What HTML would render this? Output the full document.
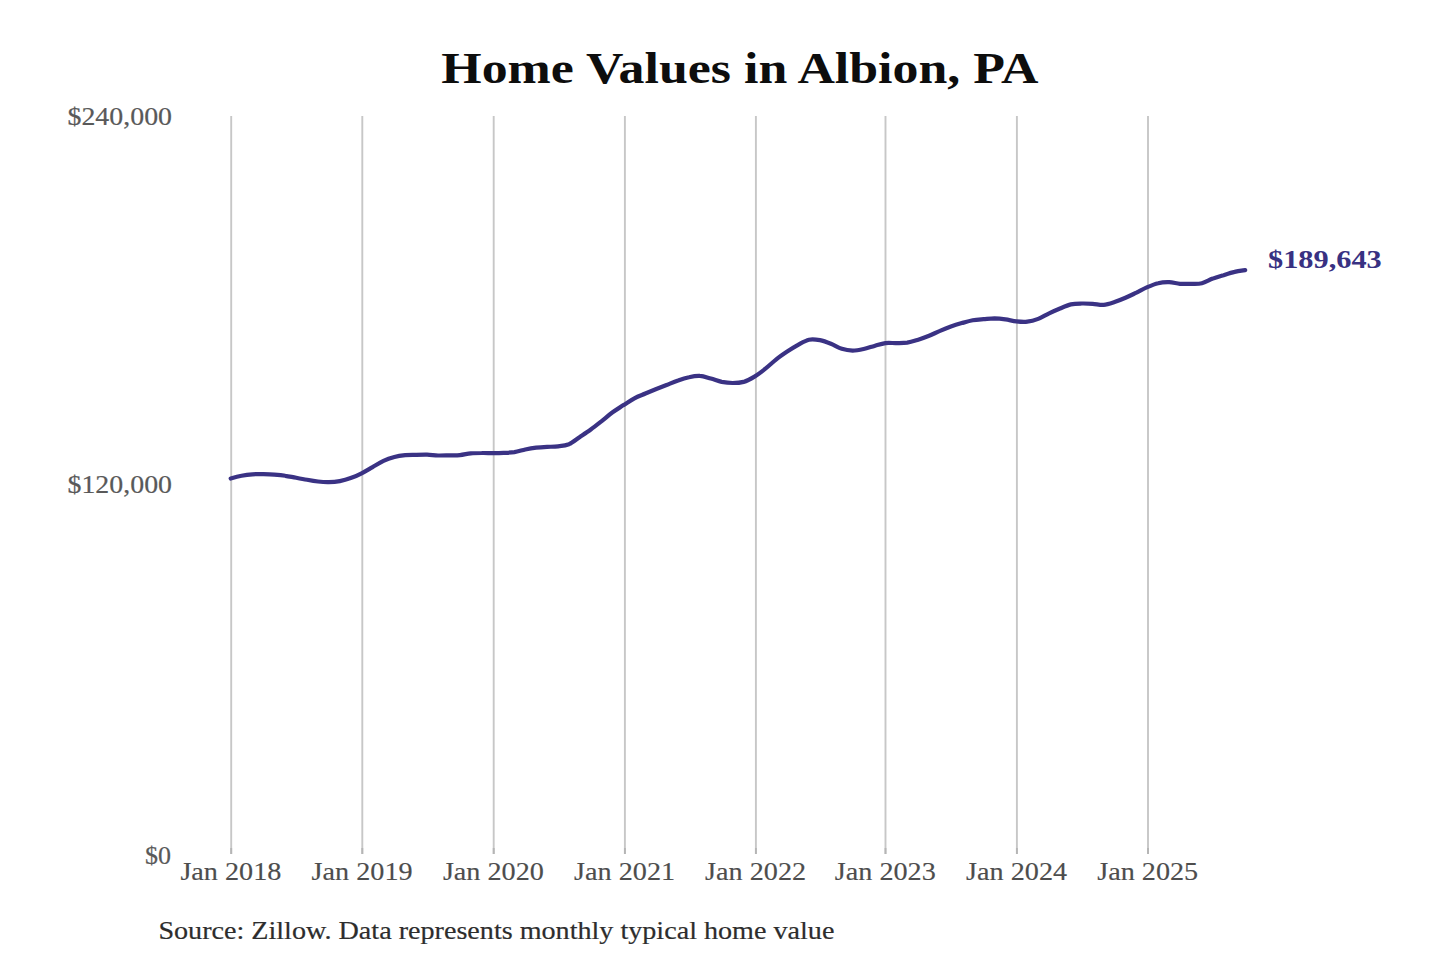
<!DOCTYPE html>
<html><head><meta charset="utf-8"><style>
html,body{margin:0;padding:0;background:#fff;width:1440px;height:960px;overflow:hidden}
svg{display:block}
text{font-family:"Liberation Serif",serif}
</style></head><body>
<svg width="1440" height="960" viewBox="0 0 1440 960">
<rect width="1440" height="960" fill="#fff"/>
<text x="441.3" y="82.8" font-size="43.5" font-weight="bold" fill="#0d0d0d" textLength="597.3" lengthAdjust="spacingAndGlyphs">Home Values in Albion, PA</text>
<g stroke="#c7c7c7" stroke-width="1.9">
<line x1="231.2" y1="116" x2="231.2" y2="854" />
<line x1="362.3" y1="116" x2="362.3" y2="854" />
<line x1="493.7" y1="116" x2="493.7" y2="854" />
<line x1="624.9" y1="116" x2="624.9" y2="854" />
<line x1="755.9" y1="116" x2="755.9" y2="854" />
<line x1="885.5" y1="116" x2="885.5" y2="854" />
<line x1="1016.9" y1="116" x2="1016.9" y2="854" />
<line x1="1148.0" y1="116" x2="1148.0" y2="854" />
</g>
<g stroke="#b5b5b5" stroke-width="1.9">
<line x1="231.2" y1="848" x2="231.2" y2="854" />
<line x1="362.3" y1="848" x2="362.3" y2="854" />
<line x1="493.7" y1="848" x2="493.7" y2="854" />
<line x1="624.9" y1="848" x2="624.9" y2="854" />
<line x1="755.9" y1="848" x2="755.9" y2="854" />
<line x1="885.5" y1="848" x2="885.5" y2="854" />
<line x1="1016.9" y1="848" x2="1016.9" y2="854" />
<line x1="1148.0" y1="848" x2="1148.0" y2="854" />
</g>
<g font-size="25.5" fill="#595959" stroke="#595959" stroke-width="0.2">
<text x="67.5" y="124.6" textLength="104.5" lengthAdjust="spacingAndGlyphs">$240,000</text>
<text x="67.5" y="492.6" textLength="104.5" lengthAdjust="spacingAndGlyphs">$120,000</text>
<text x="145" y="864" textLength="26" lengthAdjust="spacingAndGlyphs">$0</text>
</g>
<g font-size="26" fill="#4d4d4d" stroke="#4d4d4d" stroke-width="0.15">
<text x="180.4" y="879.6" textLength="101" lengthAdjust="spacingAndGlyphs">Jan 2018</text>
<text x="311.6" y="879.6" textLength="101" lengthAdjust="spacingAndGlyphs">Jan 2019</text>
<text x="442.9" y="879.6" textLength="101" lengthAdjust="spacingAndGlyphs">Jan 2020</text>
<text x="574.1" y="879.6" textLength="101" lengthAdjust="spacingAndGlyphs">Jan 2021</text>
<text x="705.1" y="879.6" textLength="101" lengthAdjust="spacingAndGlyphs">Jan 2022</text>
<text x="834.8" y="879.6" textLength="101" lengthAdjust="spacingAndGlyphs">Jan 2023</text>
<text x="966.1" y="879.6" textLength="101" lengthAdjust="spacingAndGlyphs">Jan 2024</text>
<text x="1097.2" y="879.6" textLength="101" lengthAdjust="spacingAndGlyphs">Jan 2025</text>
</g>
<path d="M230.7,478.5 C232.5,478.0 238.0,476.5 241.6,475.8 C245.2,475.1 248.9,474.6 252.5,474.3 C256.2,474.0 259.8,474.1 263.4,474.2 C267.1,474.3 270.7,474.4 274.3,474.6 C278.0,474.9 281.6,475.2 285.3,475.8 C288.9,476.3 292.5,477.1 296.2,477.7 C299.8,478.4 303.4,479.1 307.1,479.7 C310.7,480.4 314.4,481.1 318.0,481.5 C321.6,481.9 325.3,482.2 328.9,482.1 C332.5,482.1 336.2,481.8 339.8,481.1 C343.5,480.4 347.1,479.4 350.7,478.1 C354.4,476.8 358.0,475.2 361.6,473.3 C365.3,471.5 368.9,469.2 372.6,467.1 C376.2,465.0 379.8,462.6 383.5,460.9 C387.1,459.2 390.7,458.0 394.4,457.0 C398.0,456.1 401.7,455.6 405.3,455.2 C408.9,454.9 412.6,455.0 416.2,454.9 C419.8,454.7 423.5,454.5 427.1,454.6 C430.8,454.7 434.4,455.4 438.0,455.5 C441.7,455.6 445.3,455.4 448.9,455.3 C452.6,455.3 456.2,455.5 459.9,455.1 C463.5,454.8 467.1,453.7 470.8,453.3 C474.4,453.0 478.0,453.0 481.7,453.0 C485.3,452.9 488.9,453.1 492.6,453.1 C496.2,453.1 499.9,453.1 503.5,452.9 C507.1,452.7 510.8,452.6 514.4,452.1 C518.0,451.5 521.7,450.3 525.3,449.5 C529.0,448.8 532.6,448.2 536.2,447.7 C539.9,447.3 543.5,447.1 547.1,446.9 C550.8,446.7 554.4,446.8 558.1,446.3 C561.7,445.9 565.3,445.7 569.0,444.2 C572.6,442.6 576.2,439.4 579.9,436.9 C583.5,434.5 587.2,432.1 590.8,429.5 C594.4,426.8 598.1,423.9 601.7,421.1 C605.3,418.2 609.0,414.9 612.6,412.3 C616.3,409.6 619.9,407.5 623.5,405.1 C627.2,402.8 630.8,400.2 634.4,398.3 C638.1,396.3 641.7,395.1 645.4,393.5 C649.0,392.0 652.6,390.5 656.3,389.0 C659.9,387.6 663.5,386.2 667.2,384.8 C670.8,383.3 674.5,381.6 678.1,380.4 C681.7,379.1 685.4,377.9 689.0,377.2 C692.6,376.4 696.3,375.6 699.9,375.9 C703.5,376.1 707.2,377.6 710.8,378.6 C714.5,379.6 718.1,381.1 721.7,381.9 C725.4,382.6 729.0,383.0 732.6,383.0 C736.3,383.0 739.9,382.9 743.6,381.9 C747.2,380.8 750.8,378.8 754.5,376.6 C758.1,374.4 761.7,371.6 765.4,368.7 C769.0,365.8 772.7,362.2 776.3,359.3 C779.9,356.4 783.6,353.9 787.2,351.5 C790.8,349.1 794.5,346.8 798.1,344.8 C801.8,342.8 805.4,340.5 809.0,339.7 C812.7,338.9 816.3,339.5 819.9,340.1 C823.6,340.8 827.2,342.2 830.9,343.7 C834.5,345.1 838.1,347.6 841.8,348.8 C845.4,349.9 849.0,350.5 852.7,350.6 C856.3,350.6 860.0,349.8 863.6,349.0 C867.2,348.2 870.9,346.9 874.5,345.9 C878.1,344.9 881.8,343.6 885.4,343.1 C889.1,342.6 892.7,343.2 896.3,343.1 C900.0,343.0 903.6,343.1 907.2,342.6 C910.9,342.0 914.5,340.8 918.2,339.7 C921.8,338.6 925.4,337.3 929.1,335.8 C932.7,334.4 936.3,332.4 940.0,330.9 C943.6,329.3 947.2,327.8 950.9,326.5 C954.5,325.2 958.2,324.1 961.8,323.1 C965.4,322.1 969.1,321.0 972.7,320.3 C976.3,319.7 980.0,319.5 983.6,319.2 C987.3,318.9 990.9,318.4 994.5,318.4 C998.2,318.5 1001.8,318.9 1005.4,319.4 C1009.1,319.9 1012.7,321.0 1016.4,321.4 C1020.0,321.8 1023.6,322.2 1027.3,321.7 C1030.9,321.3 1034.5,320.3 1038.2,318.9 C1041.8,317.5 1045.5,315.1 1049.1,313.4 C1052.7,311.6 1056.4,310.0 1060.0,308.5 C1063.6,307.0 1067.3,305.3 1070.9,304.4 C1074.6,303.6 1078.2,303.6 1081.8,303.5 C1085.5,303.4 1089.1,303.6 1092.7,303.8 C1096.4,304.0 1100.0,305.1 1103.7,304.8 C1107.3,304.5 1110.9,303.2 1114.6,302.0 C1118.2,300.9 1121.8,299.4 1125.5,297.8 C1129.1,296.2 1132.8,294.4 1136.4,292.7 C1140.0,290.9 1143.7,288.8 1147.3,287.2 C1150.9,285.6 1154.6,284.0 1158.2,283.2 C1161.8,282.3 1165.5,282.1 1169.1,282.2 C1172.8,282.3 1176.4,283.5 1180.0,283.8 C1183.7,284.0 1187.3,283.9 1190.9,283.8 C1194.6,283.7 1198.2,284.1 1201.9,283.2 C1205.5,282.4 1209.1,279.9 1212.8,278.6 C1216.4,277.2 1220.0,276.3 1223.7,275.2 C1227.3,274.0 1231.0,272.7 1234.6,271.9 C1238.2,271.0 1243.4,270.4 1245.2,270.1" fill="none" stroke="#3a3284" stroke-width="4.2" stroke-linecap="round" stroke-linejoin="round"/>
<text x="1268" y="268.4" font-size="25.5" font-weight="bold" fill="#383182" textLength="113.75" lengthAdjust="spacingAndGlyphs">$189,643</text>
<text x="158.4" y="938.9" font-size="26" fill="#2d2d2d" stroke="#2d2d2d" stroke-width="0.2" textLength="676" lengthAdjust="spacingAndGlyphs">Source: Zillow. Data represents monthly typical home value</text>
</svg>
</body></html>
